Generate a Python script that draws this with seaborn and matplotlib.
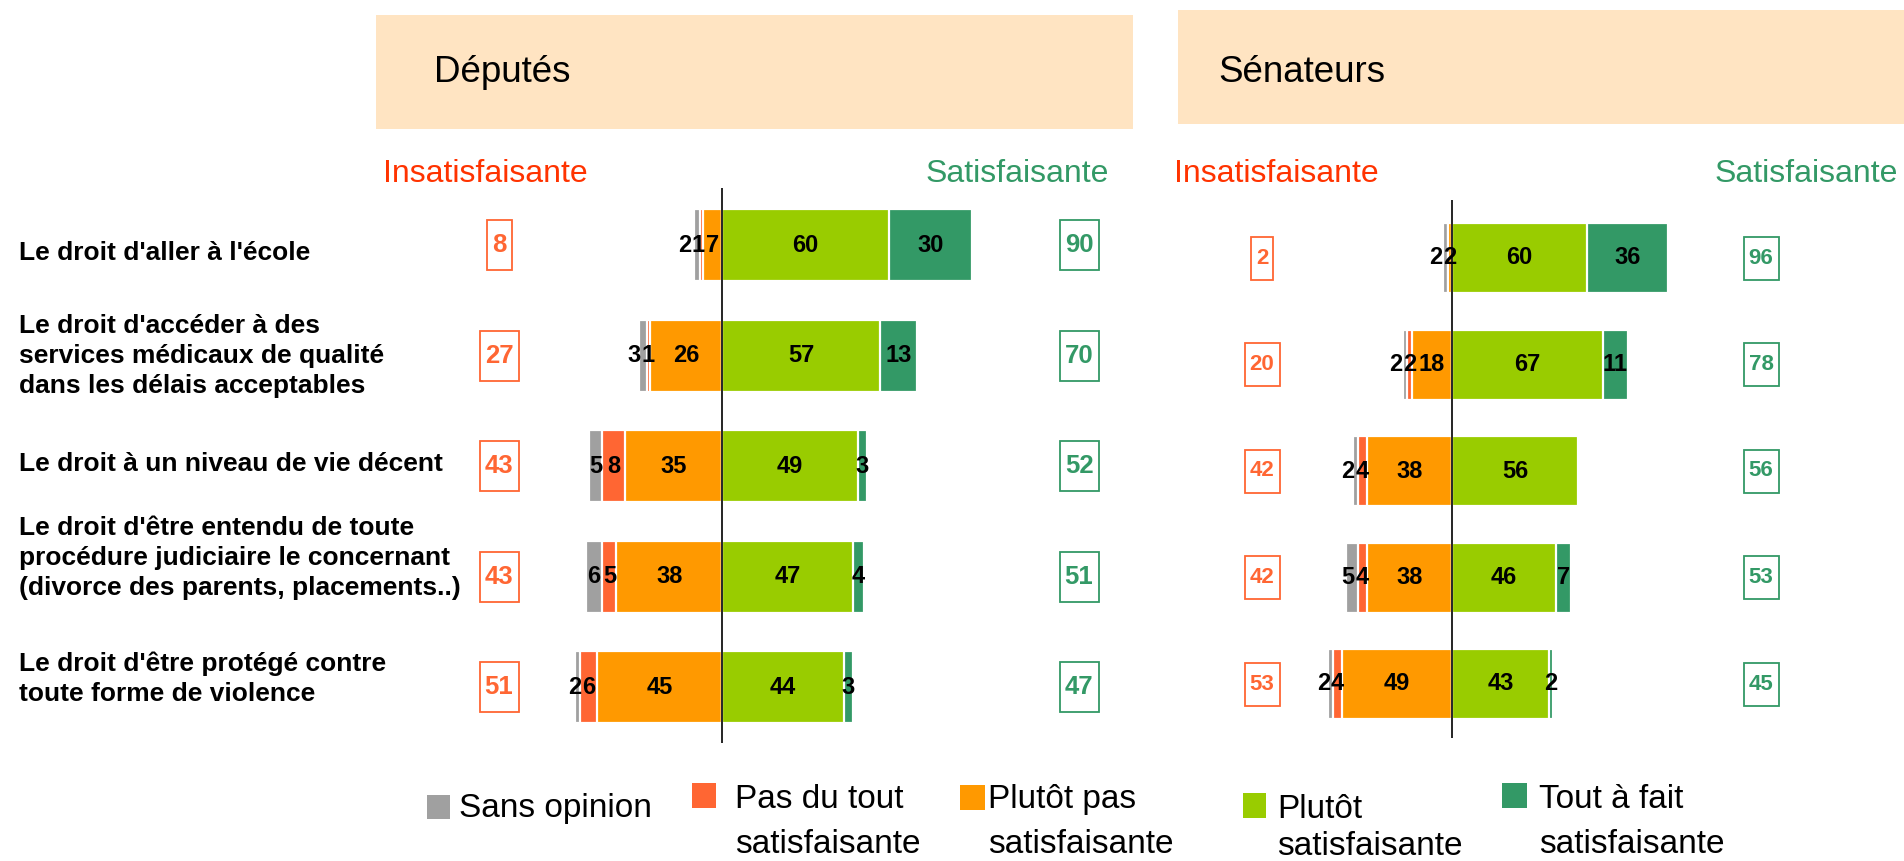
import numpy as np
import pandas as pd
import matplotlib
matplotlib.use("Agg")
import matplotlib.pyplot as plt
import seaborn as sns
from matplotlib.patches import Rectangle

# ---------------- data ----------------
rights = ["Le droit d'aller à l'école",
          "Le droit d'accéder à des\nservices médicaux de qualité\ndans les délais acceptables",
          "Le droit à un niveau de vie décent",
          "Le droit d'être entendu de toute\nprocédure judiciaire le concernant\n(divorce des parents, placements..)",
          "Le droit d'être protégé contre\ntoute forme de violence"]
categories = ["Sans opinion", "Pas du tout\nsatisfaisante", "Plutôt pas\nsatisfaisante",
              "Plutôt\nsatisfaisante", "Tout à fait\nsatisfaisante"]

dep_sans_opinion = [2, 3, 5, 6, 2]
dep_pas_du_tout = [1, 1, 8, 5, 6]
dep_plutot_pas = [7, 26, 35, 38, 45]
dep_plutot = [60, 57, 49, 47, 44]
dep_tout_a_fait = [30, 13, 3, 4, 3]
dep_insatisfaisante = [8, 27, 43, 43, 51]
dep_satisfaisante = [90, 70, 52, 51, 47]

sen_sans_opinion = [2, 2, 2, 5, 2]
sen_pas_du_tout = [0, 2, 4, 4, 4]
sen_plutot_pas = [2, 18, 38, 38, 49]
sen_plutot = [60, 67, 56, 46, 43]
sen_tout_a_fait = [36, 11, 0, 7, 2]
sen_insatisfaisante = [2, 20, 42, 42, 53]
sen_satisfaisante = [96, 78, 56, 53, 45]

# ---------------- style ----------------
GRAY, RED, ORANGE, LGREEN, DGREEN = "#A0A0A0", "#FF6633", "#FF9900", "#99CC00", "#339966"
colors = [GRAY, RED, ORANGE, LGREEN, DGREEN]
HEAD_BG = "#FFE4C2"
INSAT_COL = "#FF3300"

sns.set_style("white")
plt.rcParams['font.family'] = ['Liberation Sans', 'DejaVu Sans']

W, H = 1904, 861
fig = plt.figure(figsize=(W / 100, H / 100), dpi=100)


def fx(px):
    return px / W


def fy(py):
    return 1 - py / H


def draw_panel(so, pdt, pp, pl, taf, insat, sat, geo):
    left, right, top, bottom = geo["left"], geo["right"], geo["top"], geo["bottom"]
    center, scale, row0, spacing = geo["center"], geo["scale"], geo["row0"], geo["spacing"]
    ax = fig.add_axes([fx(left), fy(bottom), (right - left) / W, (bottom - top) / H])
    df = pd.DataFrame({"right": rights,
                       "so": so, "pdt": pdt, "pp": pp, "pl": pl, "taf": taf})
    df["neg3"] = -(df["so"] + df["pdt"] + df["pp"])
    df["neg2"] = -(df["pdt"] + df["pp"])
    df["neg1"] = -df["pp"]
    df["pos2"] = df["pl"] + df["taf"]
    df["pos1"] = df["pl"]
    bw = geo["bar_px"] / spacing
    for col, c in [("neg3", GRAY), ("neg2", RED), ("neg1", ORANGE),
                   ("pos2", DGREEN), ("pos1", LGREEN)]:
        sns.barplot(data=df, x=col, y="right", order=rights, orient="h", color=c,
                    saturation=1, width=bw, edgecolor="white", linewidth=1.6,
                    errorbar=None, ax=ax)
    ax.set_xlim((left - center) / scale, (right - center) / scale)
    row4 = row0 + 4 * spacing
    ax.set_ylim(4 + (bottom - row4) / spacing, -(row0 - top) / spacing)
    ax.axvline(0, color="black", lw=1.2, zorder=5)
    ax.axis("off")

    # value labels inside segments (nudged apart when segments are narrow)
    digit_w = 0.556 * geo["lab_fs"] * 100 / 72 / scale  # data units per digit
    for i, r in df.iterrows():
        # left side, from the centre outward
        edge = None
        for v, xc in [(r.pp, -r.pp / 2), (r.pdt, -(r.pp + r.pdt / 2)),
                      (r.so, -(r.pp + r.pdt + r.so / 2))]:
            if v <= 0:
                continue
            hw = len(f"{v:g}") * digit_w / 2
            if edge is not None:
                xc = min(xc, edge - hw - 0.3)
            ax.text(xc, i, f"{v:g}", ha="center", va="center", fontsize=geo["lab_fs"],
                    fontweight="bold", color="black", zorder=6)
            edge = xc - hw
        # right side
        edge = None
        for v, xc in [(r.pl, r.pl / 2), (r.taf, r.pl + r.taf / 2)]:
            if v <= 0:
                continue
            hw = len(f"{v:g}") * digit_w / 2
            if edge is not None:
                xc = max(xc, edge + hw + 0.3)
            ax.text(xc, i, f"{v:g}", ha="center", va="center", fontsize=geo["lab_fs"],
                    fontweight="bold", color="black", zorder=6)
            edge = xc + hw

    # total boxes
    bh = geo["box_h"] / spacing
    for i in range(len(rights)):
        for val, bx, c in [(insat[i], geo["box_l"], RED), (sat[i], geo["box_r"], DGREEN)]:
            txt = f"{val}"
            wpx = geo["box_w1"] if len(txt) == 1 else geo["box_w2"]
            xc = (bx - center) / scale
            w = wpx / scale
            ax.add_patch(Rectangle((xc - w / 2, i - bh / 2), w, bh, facecolor="white",
                                   edgecolor=c, lw=1.3, clip_on=False, zorder=4))
            ax.text(xc, i, txt, ha="center", va="center", fontsize=geo["box_fs"],
                    fontweight="bold", color=c, zorder=6)
    return ax


dep_geo = dict(left=390, right=1130, top=188, bottom=743, center=722, scale=2.78,
               row0=245, spacing=110.5, bar_px=72, box_h=50, box_w1=25, box_w2=39,
               box_l=499, box_r=1079, lab_fs=17, box_fs=18.5)
sen_geo = dict(left=1170, right=1900, top=200, bottom=738, center=1452, scale=2.25,
               row0=258, spacing=106.5, bar_px=70, box_h=43, box_w1=22, box_w2=35,
               box_l=1262, box_r=1761, lab_fs=17, box_fs=16)

draw_panel(dep_sans_opinion, dep_pas_du_tout, dep_plutot_pas, dep_plutot, dep_tout_a_fait,
           dep_insatisfaisante, dep_satisfaisante, dep_geo)
draw_panel(sen_sans_opinion, sen_pas_du_tout, sen_plutot_pas, sen_plutot, sen_tout_a_fait,
           sen_insatisfaisante, sen_satisfaisante, sen_geo)

# ---------------- headers ----------------
for (x0, y0, x1, y1, label, tx) in [(376, 15, 1133, 129, "Députés", 434),
                                    (1178, 10, 1904, 124, "Sénateurs", 1218)]:
    fig.add_artist(Rectangle((fx(x0), fy(y1)), (x1 - x0) / W, (y1 - y0) / H,
                             transform=fig.transFigure, facecolor=HEAD_BG, edgecolor="none"))
    fig.text(fx(tx), fy(73), label, ha="left", va="center", fontsize=26.5, color="black")

for (xl, xr) in [(383, 1109), (1174, 1898)]:
    fig.text(fx(xl), fy(174), "Insatisfaisante", ha="left", va="center", fontsize=23,
             color=INSAT_COL)
    fig.text(fx(xr), fy(174), "Satisfaisante", ha="right", va="center", fontsize=23,
             color=DGREEN)

# ---------------- row labels ----------------
label_y = [253, 356, 464, 558, 679]
for lab, yy in zip(rights, label_y):
    fig.text(fx(19), fy(yy), lab, ha="left", va="center", fontsize=19, fontweight="bold",
             color="black", linespacing=1.32)

# ---------------- legend ----------------
legend_layout = [  # square x0, x1, y0, y1, text x, baselines
    (427, 450, 795, 819, 459, [817]),
    (692, 716, 783, 808, 735, [808, 853]),
    (960, 985, 785, 810, 988, [808, 853]),
    (1243, 1266, 793, 818, 1277, [818, 855]),
    (1502, 1527, 783, 808, 1539, [808, 853]),
]
for cat, c, (x0, x1, y0, y1, tx, bases) in zip(categories, colors, legend_layout):
    fig.add_artist(Rectangle((fx(x0), fy(y1)), (x1 - x0) / W, (y1 - y0) / H,
                             transform=fig.transFigure, facecolor=c, edgecolor="none"))
    for line, b in zip(cat.split("\n"), bases):
        fig.text(fx(tx), fy(b), line, ha="left", va="baseline", fontsize=24, color="black")

fig.savefig("out.png", dpi=100)
